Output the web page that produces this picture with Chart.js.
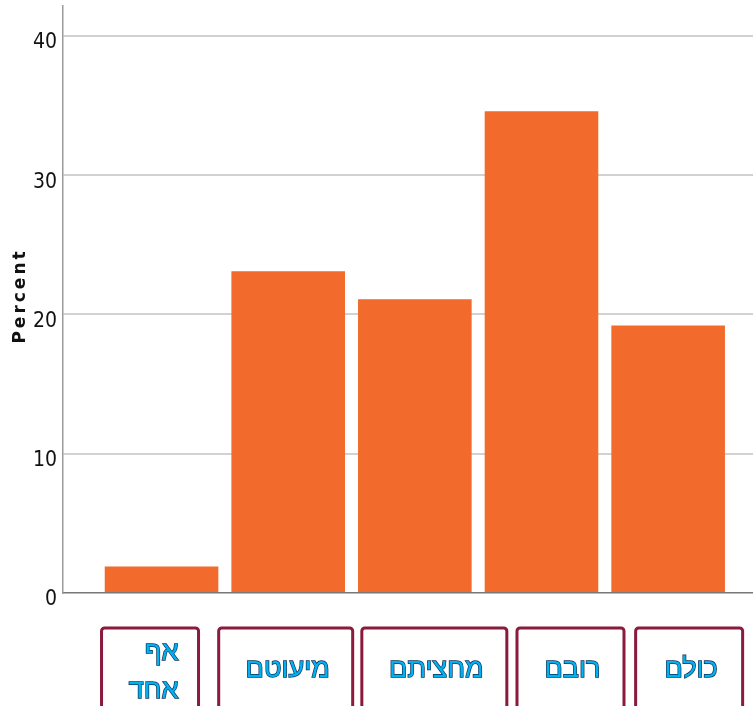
<!DOCTYPE html>
<html>
<head>
<meta charset="utf-8">
<script src="https://cdn.jsdelivr.net/npm/chart.js@4"></script>
<style>html,body{margin:0;padding:0;background:#fff}</style>
</head>
<body>
<div style="width:753px;height:706px"><canvas id="percent-chart"></canvas></div>
<script>
// categories run left to right as in the picture
const categories = [["אף", "אחד"], "מיעוטם", "מחציתם", "רובם", "כולם"];
const percents = [1.9, 23.1, 21.1, 34.6, 19.2];
const yTicks = [0, 10, 20, 30, 40];

// label boxes under the axis (shift from bar centre, width)
const boxLayout = [
    { dx: -11.5, w: 97 },
    { dx: -2.5, w: 134 },
    { dx: 19.5, w: 145 },
    { dx: 29, w: 107 },
    { dx: 21, w: 107 },
];

const labelBoxes = {
    id: 'labelBoxes',
    afterDraw(chart) {
        const ctx = chart.ctx;
        const xs = chart.scales.x;
        const top = chart.chartArea.bottom + 35;
        ctx.save();
        ctx.direction = 'rtl';
        ctx.textBaseline = 'middle';
        ctx.font = '27px "Liberation Sans", "DejaVu Sans", sans-serif';
        categories.forEach((label, i) => {
            const b = boxLayout[i];
            const cx = xs.getPixelForValue(i) + b.dx;
            const left = cx - b.w / 2;
            ctx.beginPath();
            ctx.roundRect(left, top, b.w, 90, 3);
            ctx.lineWidth = 3;
            ctx.strokeStyle = '#8b1a3c';
            ctx.stroke();

            const lines = Array.isArray(label) ? label : [label];
            ctx.textAlign = lines.length > 1 ? 'right' : 'center';
            const tx = lines.length > 1 ? left + b.w - 20 : cx + 2;
            lines.forEach((t, k) => {
                const ty = lines.length > 1 ? top + 25 + k * 38 : top + 42;
                ctx.lineWidth = 1.4;
                ctx.strokeStyle = '#0b2f55';
                ctx.strokeText(t, tx, ty);
                ctx.fillStyle = '#00b2f2';
                ctx.fillText(t, tx, ty);
            });
        });

        // y axis title
        ctx.direction = 'ltr';
        ctx.translate(21, 298);
        ctx.rotate(-Math.PI / 2);
        ctx.font = 'bold 17px "DejaVu Sans", sans-serif';
        ctx.letterSpacing = '3px';
        ctx.textAlign = 'center';
        ctx.fillStyle = '#111';
        ctx.fillText('Percent', 2, 0);
        ctx.restore();
    }
};

new Chart(document.querySelector('canvas#percent-chart'), {
    type: 'bar',
    data: {
        datasets: [{
            label: 'Percent',
            data: percents.map((v, i) => ({ x: i, y: v })),
            backgroundColor: '#f26a2c',
            borderWidth: 0,
            barPercentage: 0.897,
            categoryPercentage: 1,
        }]
    },
    options: {
        responsive: true,
        maintainAspectRatio: false,
        animation: false,
        layout: { padding: { top: 6, right: 0, bottom: 113, left: 0 } },
        plugins: {
            legend: { display: false },
            tooltip: { enabled: false },
        },
        scales: {
            x: {
                type: 'linear',
                min: -0.778,
                max: 4.67,
                offset: false,
                afterBuildTicks: s => { s.ticks = percents.map((v, i) => ({ value: i })); },
                ticks: { display: false },
                grid: { display: false },
                border: { color: '#777', width: 1.5 },
                afterFit: s => { s.height = 0; s.paddingLeft = 0; s.paddingRight = 0; },
            },
            y: {
                min: 0,
                max: 42.15,
                afterBuildTicks: s => { s.ticks = yTicks.map(v => ({ value: v })); },
                afterFit: s => { s.width = 63; s.paddingTop = 0; s.paddingBottom = 0; },
                grid: {
                    color: c => c.tick && c.tick.value === 0 ? 'rgba(0,0,0,0)' : '#d2d2d2',
                    lineWidth: 2,
                    drawTicks: false,
                },
                border: { color: '#9a9a9a', width: 1.5 },
                ticks: {
                    padding: 6,
                    labelOffset: 7,
                    color: '#111',
                    font: { family: '"DejaVu Sans Condensed", sans-serif', size: 21 },
                },
            }
        }
    },
    plugins: [labelBoxes]
});
</script>
</body>
</html>
